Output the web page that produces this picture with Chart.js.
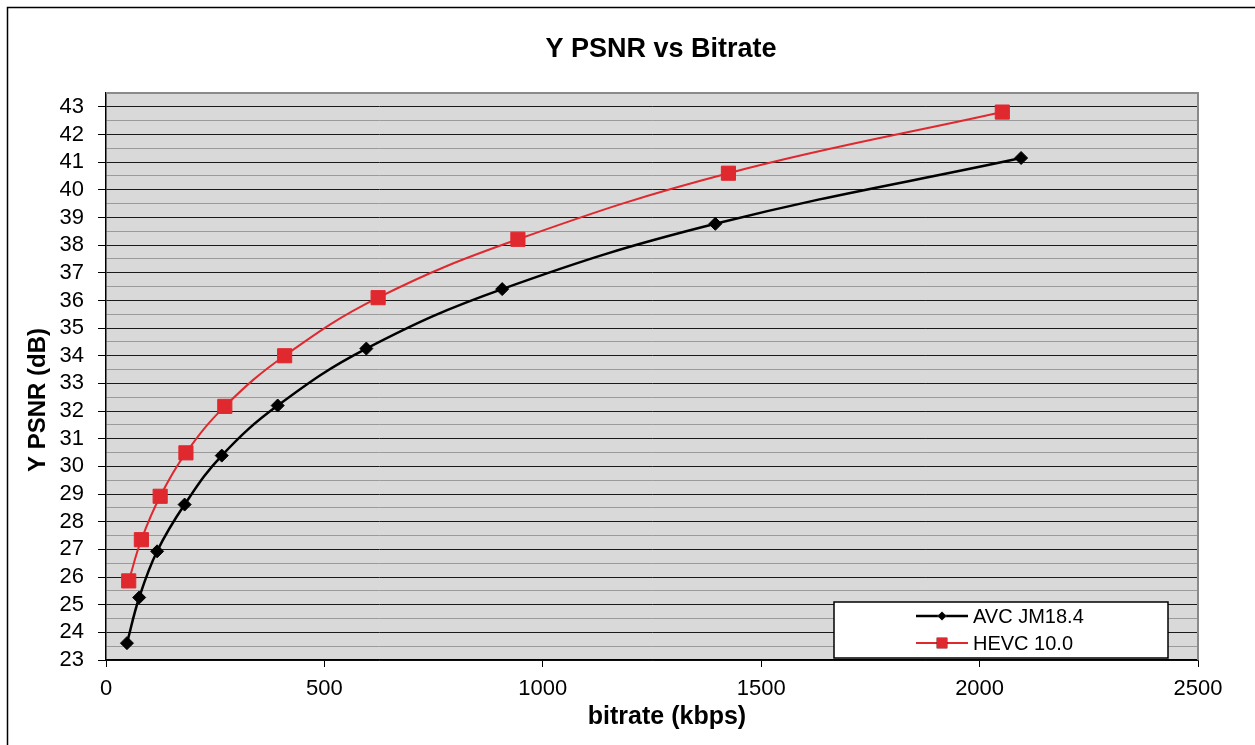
<!DOCTYPE html>
<html>
<head>
<meta charset="utf-8">
<title>Y PSNR vs Bitrate</title>
<script src="https://cdn.jsdelivr.net/npm/chart.js@4/dist/chart.umd.min.js"></script>
<style>
  html, body { margin: 0; padding: 0; background: #fff; }
  canvas { display: block; }
</style>
</head>
<body>
<canvas id="chart" width="1255" height="745"></canvas>
<script>
// values
const avcLabel = 'AVC JM18.4';
const avcBitrate = [48, 76, 117, 180, 265, 393, 596, 907, 1395, 2095];
const avcPsnr = [23.61, 25.26, 26.93, 28.62, 30.39, 32.2, 34.26, 36.41, 38.77, 41.15];

const hevcLabel = 'HEVC 10.0';
const hevcBitrate = [52, 81, 124, 183, 272, 409, 623, 943, 1425, 2052];
const hevcPsnr = [25.86, 27.35, 28.92, 30.49, 32.17, 34.0, 36.1, 38.21, 40.6, 42.81];

const chartTitle = 'Y PSNR vs Bitrate';
const xTitle = 'bitrate (kbps)';
const yTitle = 'Y PSNR (dB)';

const FONT = "'Liberation Sans', Arial, sans-serif";
const RED = '#e0282f';

Chart.defaults.font.family = FONT;
Chart.defaults.color = '#000';

const toPoints = (xs, ys) => xs.map((x, i) => ({ x, y: ys[i] }));

// Excel-ish frame: outer border, grey plot area, titles, legend box in the corner
const frame = {
  id: 'frame',
  beforeDraw(chart) {
    const { ctx, chartArea: a } = chart;
    ctx.save();
    ctx.fillStyle = '#d9d9d9';
    ctx.fillRect(a.left, a.top, a.right - a.left, a.bottom - a.top);
    ctx.restore();
  },
  afterDatasetsDraw(chart) {
    const { ctx, chartArea: a } = chart;
    ctx.save();
    // top + right plot border
    ctx.strokeStyle = '#8a8a8a';
    ctx.lineWidth = 2;
    ctx.beginPath();
    ctx.moveTo(a.left, a.top);
    ctx.lineTo(a.right, a.top);
    ctx.lineTo(a.right, a.bottom);
    ctx.stroke();

    // outer chart border (runs off the right / bottom edges)
    ctx.strokeStyle = '#000';
    ctx.lineWidth = 1.5;
    ctx.strokeRect(7.5, 7.5, 1400, 900);

    // titles
    ctx.fillStyle = '#000';
    ctx.textAlign = 'center';
    ctx.textBaseline = 'middle';
    ctx.font = `bold 27px ${FONT}`;
    ctx.fillText(chartTitle, 661, 50);
    ctx.font = `bold 25px ${FONT}`;
    ctx.fillText(xTitle, 667, 717);
    ctx.translate(38, 400);
    ctx.rotate(-Math.PI / 2);
    ctx.font = `bold 24px ${FONT}`;
    ctx.fillText(yTitle, 0, 0);
    ctx.restore();

    // legend
    const box = { x: 834, y: 602, w: 334, h: 56 };
    ctx.save();
    ctx.fillStyle = '#fff';
    ctx.fillRect(box.x, box.y, box.w, box.h);
    ctx.strokeStyle = '#000';
    ctx.lineWidth = 1.5;
    ctx.strokeRect(box.x, box.y, box.w, box.h);
    chart.data.datasets.forEach((ds, i) => {
      const cy = box.y + 14 + i * 27;
      ctx.strokeStyle = ds.borderColor;
      ctx.lineWidth = ds.borderWidth;
      ctx.beginPath();
      ctx.moveTo(916, cy);
      ctx.lineTo(968, cy);
      ctx.stroke();
      Chart.helpers.drawPoint(ctx, {
        pointStyle: ds.pointStyle,
        radius: ds.legendRadius,
        borderWidth: 0
      }, 942, cy);
      ctx.fillStyle = ds.pointBackgroundColor;
      ctx.fill();
      ctx.fillStyle = '#000';
      ctx.font = `20px ${FONT}`;
      ctx.textAlign = 'left';
      ctx.textBaseline = 'middle';
      ctx.fillText(ds.label, 973, cy + 1);
    });
    ctx.restore();
  }
};

new Chart(document.getElementById('chart'), {
  type: 'scatter',
  data: {
    datasets: [
      {
        label: avcLabel,
        data: toPoints(avcBitrate, avcPsnr),
        showLine: true,
        tension: 0.4,
        borderColor: '#000',
        borderWidth: 2.5,
        pointStyle: 'rectRot',
        pointRadius: 6.5,
        legendRadius: 4.5,
        pointBackgroundColor: '#000',
        pointBorderColor: '#000',
        pointBorderWidth: 1
      },
      {
        label: hevcLabel,
        data: toPoints(hevcBitrate, hevcPsnr),
        showLine: true,
        tension: 0.4,
        borderColor: RED,
        borderWidth: 2,
        pointStyle: 'rect',
        pointRadius: 10,
        legendRadius: 7.5,
        pointBackgroundColor: RED,
        pointBorderColor: RED,
        pointBorderWidth: 1
      }
    ]
  },
  options: {
    responsive: false,
    animation: false,
    devicePixelRatio: 1,
    layout: { padding: { left: 0, right: 57, top: 93, bottom: 0 } },
    plugins: {
      legend: { display: false },
      title: { display: false },
      tooltip: { enabled: false }
    },
    scales: {
      x: {
        type: 'linear',
        min: 0,
        max: 2500,
        afterFit(scale) { scale.height = 85; },
        ticks: { stepSize: 500, font: { size: 22 }, color: '#000', padding: 9, callback: v => String(v) },
        grid: { drawOnChartArea: false, tickLength: 7, tickColor: '#000' },
        border: { color: '#000', width: 1.5 }
      },
      y: {
        type: 'linear',
        min: 23,
        max: 43.5,
        afterFit(scale) { scale.width = 106; },
        ticks: {
          stepSize: 0.5,
          autoSkip: false,
          font: { size: 22 },
          color: '#000',
          padding: 14,
          callback: v => (v % 1 === 0 ? v : '')
        },
        grid: {
          tickLength: 8,
          lineWidth: 1,
          color: c => (c.tick && c.tick.value % 1 === 0 ? '#1a1a1a' : '#9a9a9a'),
          tickColor: c => (c.tick && c.tick.value % 1 === 0 ? '#000' : 'rgba(0,0,0,0)')
        },
        border: { color: '#000', width: 1.5 }
      }
    }
  },
  plugins: [frame]
});
</script>
</body>
</html>
